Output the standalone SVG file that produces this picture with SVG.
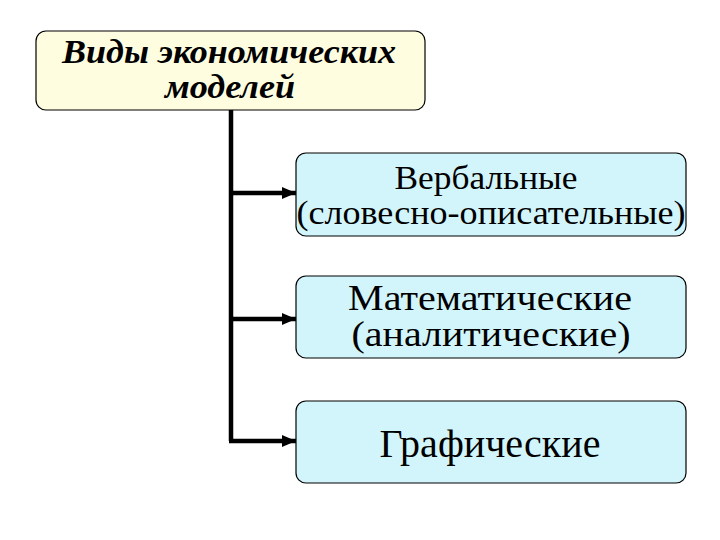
<svg xmlns="http://www.w3.org/2000/svg" width="720" height="540" viewBox="0 0 720 540">
<defs>
<style>
.top{fill:#fffde0;stroke:#000;stroke-width:1.2}
.box{fill:#d2f5fb;stroke:#000;stroke-width:1.2}
.ln{fill:none;stroke:#000;stroke-width:4.5}
.tt{font-family:'Liberation Serif',serif;font-weight:bold;font-style:italic;font-size:34px;text-anchor:middle;fill:#000}
.bt{font-family:'Liberation Serif',serif;text-anchor:middle;fill:#000}
</style>
<marker id="ah" markerWidth="14" markerHeight="14" refX="14" refY="7" orient="auto" markerUnits="userSpaceOnUse" viewBox="0 0 14 14">
<path d="M0,1 L14,7 L0,13 Z" fill="#000"/>
</marker>
</defs>
<rect width="720" height="540" fill="#fff"/>
<g id="connectors">
<path class="ln" d="M231,110 V441"/>
<path class="ln" d="M229,193 H296" marker-end="url(#ah)"/>
<path class="ln" d="M229,319 H296" marker-end="url(#ah)"/>
<path class="ln" d="M229,441 H296" marker-end="url(#ah)"/>
</g>
<g id="n0">
<rect class="top" x="36" y="31" width="389" height="79" rx="10"/>
<text class="tt" x="229" y="63" textLength="334" lengthAdjust="spacingAndGlyphs">Виды экономических</text>
<text class="tt" x="230" y="98" textLength="130" lengthAdjust="spacingAndGlyphs">моделей</text>
</g>
<g id="n1">
<rect class="box" x="296" y="153" width="390" height="83" rx="10"/>
<text class="bt" x="486" y="189" font-size="33" textLength="183" lengthAdjust="spacingAndGlyphs">Вербальные</text>
<text class="bt" x="491" y="224" font-size="33" textLength="389" lengthAdjust="spacingAndGlyphs">(словесно-описательные)</text>
</g>
<g id="n2">
<rect class="box" x="296" y="276" width="390" height="82" rx="10"/>
<text class="bt" x="490" y="310" font-size="36" textLength="284" lengthAdjust="spacingAndGlyphs">Математические</text>
<text class="bt" x="491" y="346" font-size="36" textLength="279" lengthAdjust="spacingAndGlyphs">(аналитические)</text>
</g>
<g id="n3">
<rect class="box" x="296" y="401" width="390" height="82" rx="10"/>
<text class="bt" x="490" y="457" font-size="40" textLength="221" lengthAdjust="spacingAndGlyphs">Графические</text>
</g>
</svg>
